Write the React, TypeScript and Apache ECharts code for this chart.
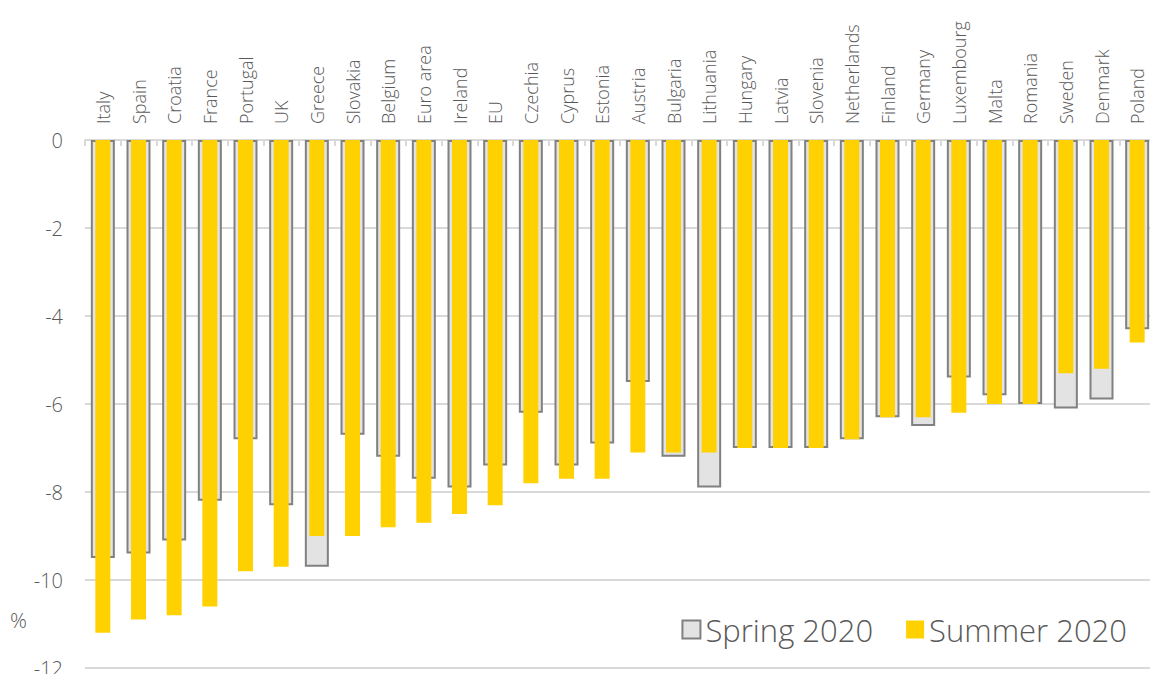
import React, { useEffect, useRef } from "react";
import * as echarts from "echarts";

const categories = [
  "Italy", "Spain", "Croatia", "France", "Portugal", "UK", "Greece", "Slovakia",
  "Belgium", "Euro area", "Ireland", "EU", "Czechia", "Cyprus", "Estonia", "Austria",
  "Bulgaria", "Lithuania", "Hungary", "Latvia", "Slovenia", "Netherlands", "Finland",
  "Germany", "Luxembourg", "Malta", "Romania", "Sweden", "Denmark", "Poland",
];

const spring2020 = [
  -9.5, -9.4, -9.1, -8.2, -6.8, -8.3, -9.7, -6.7,
  -7.2, -7.7, -7.9, -7.4, -6.2, -7.4, -6.9, -5.5,
  -7.2, -7.9, -7.0, -7.0, -7.0, -6.8, -6.3,
  -6.5, -5.4, -5.8, -6.0, -6.1, -5.9, -4.3,
];

const summer2020 = [
  -11.2, -10.9, -10.8, -10.6, -9.8, -9.7, -9.0, -9.0,
  -8.8, -8.7, -8.5, -8.3, -7.8, -7.7, -7.7, -7.1,
  -7.1, -7.1, -7.0, -7.0, -7.0, -6.8, -6.3,
  -6.3, -6.2, -6.0, -6.0, -5.3, -5.2, -4.6,
];

const FONT = "'Open Sans', 'Noto Sans', sans-serif";
const TEXT = "#595959";

export default function App() {
  const ref = useRef<HTMLDivElement>(null);
  useEffect(() => {
    if (!ref.current) return;
    const chart = echarts.init(ref.current, undefined, { renderer: "svg" });
    chart.setOption({
      animation: false,
      backgroundColor: "#ffffff",
      textStyle: { fontFamily: FONT },
      grid: { left: 85, right: 3, top: 140, bottom: 14, containLabel: false },
      legend: {
        right: 26,
        top: 609,
        icon: "rect",
        itemWidth: 18,
        itemHeight: 18,
        itemGap: 33,
        itemStyle: { borderWidth: 2 },
        textStyle: { fontSize: 31, color: TEXT, fontFamily: FONT, fontWeight: 300 },
        data: ["Spring 2020", "Summer 2020"],
      },
      graphic: [
        {
          type: "text",
          left: 10,
          top: 609,
          style: { text: "%", fontSize: 21, fill: TEXT, fontFamily: FONT, fontWeight: 300 },
        },
      ],
      xAxis: [
        {
          type: "category",
          position: "top",
          data: categories,
          axisLine: { show: true, lineStyle: { color: "#d9d9d9", width: 2 } },
          axisTick: { show: true, inside: true, length: 6, lineStyle: { color: "#d9d9d9", width: 2 } },
          axisLabel: {
            rotate: 90,
            interval: 0,
            fontSize: 18,
            color: TEXT,
            margin: 16,
            fontFamily: FONT,
            fontWeight: 300,
          },
        },
        {
          type: "category",
          position: "top",
          data: categories,
          show: false,
        },
      ],
      yAxis: {
        type: "value",
        min: -12,
        max: 0,
        interval: 2,
        axisLine: { show: false },
        axisTick: { show: false },
        axisLabel: { fontSize: 20, color: TEXT, margin: 22, fontFamily: FONT, fontWeight: 300 },
        splitLine: { lineStyle: { color: "#d9d9d9", width: 2 } },
      },
      series: [
        {
          name: "Spring 2020",
          type: "bar",
          xAxisIndex: 0,
          data: spring2020,
          barWidth: 24,
          itemStyle: { color: "#e3e3e3", borderColor: "#808080", borderWidth: 2 },
          z: 2,
        },
        {
          name: "Summer 2020",
          type: "bar",
          xAxisIndex: 1,
          data: summer2020,
          barWidth: 15,
          itemStyle: { color: "#ffd100" },
          z: 3,
        },
      ],
    });
    return () => chart.dispose();
  }, []);
  return <div ref={ref} style={{ width: 1158, height: 682, margin: -8 }} />;
}
